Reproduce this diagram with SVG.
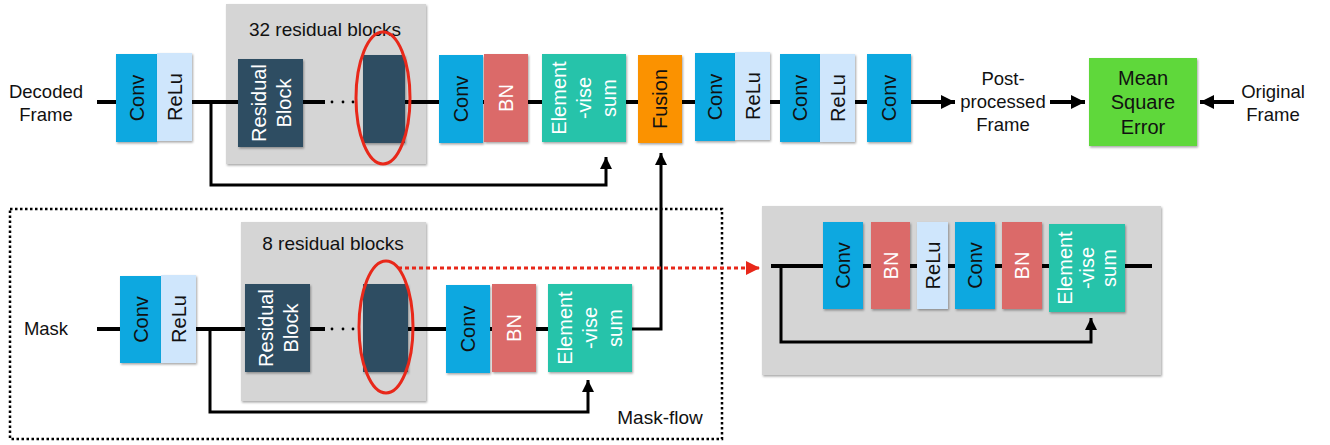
<svg xmlns="http://www.w3.org/2000/svg" width="1330" height="445" viewBox="0 0 1330 445">
<defs>
<filter id="sh" x="-10%" y="-10%" width="130%" height="130%">
<feDropShadow dx="1" dy="1.5" stdDeviation="1" flood-color="#000" flood-opacity="0.35"/>
</filter>
<marker id="ah" viewBox="0 0 12 12" refX="12" refY="6" markerWidth="12" markerHeight="12" markerUnits="userSpaceOnUse" orient="auto">
<path d="M0,0 L12,6 L0,12 z" fill="#000"/>
</marker>
<marker id="ahb" viewBox="0 0 14 14" refX="14" refY="7" markerWidth="14" markerHeight="14" markerUnits="userSpaceOnUse" orient="auto">
<path d="M0,0 L14,7 L0,14 z" fill="#000"/>
</marker>
<marker id="ahr" viewBox="0 0 14 14" refX="14" refY="7" markerWidth="14" markerHeight="14" markerUnits="userSpaceOnUse" orient="auto">
<path d="M0,0 L14,7 L0,14 z" fill="#e8281a"/>
</marker>
</defs>
<style>
text{font-family:"Liberation Sans",Arial,Helvetica,sans-serif;}
.lbl{font-size:18.5px;fill:#111;text-anchor:middle;}
.rl{font-size:20px;text-anchor:middle;}
.dk{fill:#111;}
.wh{fill:#fff;}
.conv{fill:#10a8e0;filter:url(#sh);}
.relu{fill:#cfe6fc;filter:url(#sh);}
.bn{fill:#db6a69;filter:url(#sh);}
.elem{fill:#25c3aa;filter:url(#sh);}
.fus{fill:#fb9200;filter:url(#sh);}
.res{fill:#2f4e62;filter:url(#sh);}
.mse{fill:#5ed83a;filter:url(#sh);}
.grp{fill:#d5d5d5;filter:url(#sh);}
.ln{fill:none;stroke:#000;stroke-width:4;}
.sk{fill:none;stroke:#000;stroke-width:3;}
.ell{fill:none;stroke:#e8281a;stroke-width:3;}
</style>

<!-- background groups -->
<g id="group-32">
<rect class="grp" x="226" y="4" width="200" height="160"/>
<text class="lbl" x="325" y="36" style="font-size:19px">32 residual blocks</text>
</g>
<g id="group-8">
<rect class="grp" x="241" y="222" width="185" height="179"/>
<text class="lbl" x="333" y="250" style="font-size:19px">8 residual blocks</text>
</g>
<g id="inset">
<rect class="grp" x="762" y="206" width="399" height="169"/>
</g>
<g id="mask-flow">
<rect x="10" y="209" width="712" height="230" fill="none" stroke="#000" stroke-width="2.5" stroke-dasharray="2.5 2.5"/>
<text class="lbl" x="660" y="424" style="font-size:19px">Mask-flow</text>
</g>

<!-- connectors -->
<g id="connectors">
<path class="ln" d="M97 102 H325"/>
<path class="ln" d="M363 102 H911"/>
<path class="ln" d="M911 102 H955" marker-end="url(#ahb)"/>
<path class="ln" d="M1050 102 H1085" marker-end="url(#ahb)"/>
<path class="ln" d="M1234 102 H1200" marker-end="url(#ahb)"/>
<path class="sk" d="M211 102 V185 H606 V157" marker-end="url(#ah)"/>
<path class="ln" d="M97 329 H325"/>
<path class="ln" d="M363 329 H632"/>
<path class="sk" d="M632 329 H661 V153" marker-end="url(#ah)"/>
<path class="sk" d="M210 329 V412 H588 V380" marker-end="url(#ah)"/>
<path d="M398 268 H760" fill="none" stroke="#e8281a" stroke-width="3" stroke-dasharray="4 3" marker-end="url(#ahr)"/>
<path class="ln" d="M771 266 H1152"/>
<path class="sk" d="M781 266 V342 H1091 V318" marker-end="url(#ah)"/>
<g fill="#000">
<circle cx="332" cy="102" r="1.4"/><circle cx="343" cy="102" r="1.4"/><circle cx="353" cy="102" r="1.4"/>
<circle cx="332" cy="329" r="1.4"/><circle cx="343" cy="329" r="1.4"/><circle cx="353" cy="329" r="1.4"/>
</g>
</g>

<!-- top row nodes -->
<g id="decoded-frame"><text class="lbl" x="46" y="98">Decoded</text><text class="lbl" x="46" y="121">Frame</text></g>
<g id="t-conv1"><rect class="conv" x="116" y="54" width="41" height="88"/><text class="rl dk" transform="translate(136.5,98) rotate(-90)" y="7">Conv</text></g>
<g id="t-relu1"><rect class="relu" x="157" y="53" width="35" height="88"/><text class="rl dk" transform="translate(174.5,97) rotate(-90)" y="7">ReLu</text></g>
<g id="t-res"><rect class="res" x="238" y="59" width="65" height="88"/><text class="rl wh" transform="translate(270.5,103) rotate(-90)"><tspan x="0" y="-5">Residual</tspan><tspan x="0" y="20">Block</tspan></text></g>
<g id="t-res-last"><rect class="res" x="363" y="55" width="42" height="88"/><ellipse class="ell" cx="383" cy="98" rx="27" ry="66"/></g>
<g id="t-conv2"><rect class="conv" x="439" y="55" width="44" height="88"/><text class="rl dk" transform="translate(461,99) rotate(-90)" y="7">Conv</text></g>
<g id="t-bn"><rect class="bn" x="484" y="54" width="44" height="88"/><text class="rl wh" transform="translate(506,98) rotate(-90)" y="7">BN</text></g>
<g id="t-elem"><rect class="elem" x="542" y="54" width="84" height="88"/><text class="rl wh" transform="translate(584,98) rotate(-90)"><tspan x="0" y="-18">Element</tspan><tspan x="0" y="7">-vise</tspan><tspan x="0" y="32">sum</tspan></text></g>
<g id="t-fusion"><rect class="fus" x="638" y="55" width="44" height="88"/><text class="rl dk" transform="translate(660,99) rotate(-90)" y="7">Fusion</text></g>
<g id="t-conv3"><rect class="conv" x="695" y="53" width="40" height="88"/><text class="rl dk" transform="translate(715,97) rotate(-90)" y="7">Conv</text></g>
<g id="t-relu3"><rect class="relu" x="735" y="52" width="35" height="88"/><text class="rl dk" transform="translate(752.5,96) rotate(-90)" y="7">ReLu</text></g>
<g id="t-conv4"><rect class="conv" x="780" y="54" width="40" height="88"/><text class="rl dk" transform="translate(800,98) rotate(-90)" y="7">Conv</text></g>
<g id="t-relu4"><rect class="relu" x="820" y="54" width="35" height="88"/><text class="rl dk" transform="translate(837.5,98) rotate(-90)" y="7">ReLu</text></g>
<g id="t-conv5"><rect class="conv" x="867" y="54" width="44" height="88"/><text class="rl dk" transform="translate(889,98) rotate(-90)" y="7">Conv</text></g>
<g id="post-processed"><text class="lbl" x="1003" y="85">Post-</text><text class="lbl" x="1003" y="108">processed</text><text class="lbl" x="1003" y="131">Frame</text></g>
<g id="mse"><rect class="mse" x="1089" y="58" width="108" height="88"/><text class="lbl" x="1143" y="85" style="font-size:20px">Mean</text><text class="lbl" x="1143" y="109" style="font-size:20px">Square</text><text class="lbl" x="1143" y="134" style="font-size:20px">Error</text></g>
<g id="original-frame"><text class="lbl" x="1273" y="98">Original</text><text class="lbl" x="1273" y="121">Frame</text></g>

<!-- bottom row nodes -->
<g id="mask"><text class="lbl" x="46" y="335">Mask</text></g>
<g id="b-conv1"><rect class="conv" x="120" y="276" width="41" height="87"/><text class="rl dk" transform="translate(140.5,319.5) rotate(-90)" y="7">Conv</text></g>
<g id="b-relu1"><rect class="relu" x="161" y="275" width="35" height="88"/><text class="rl dk" transform="translate(178.5,319) rotate(-90)" y="7">ReLu</text></g>
<g id="b-res"><rect class="res" x="245" y="284" width="65" height="88"/><text class="rl wh" transform="translate(277.5,328) rotate(-90)"><tspan x="0" y="-5">Residual</tspan><tspan x="0" y="20">Block</tspan></text></g>
<g id="b-res-last"><rect class="res" x="363" y="284" width="45" height="88"/><ellipse class="ell" cx="386" cy="327" rx="27" ry="66"/></g>
<g id="b-conv2"><rect class="conv" x="446" y="285" width="44" height="88"/><text class="rl dk" transform="translate(468,329) rotate(-90)" y="7">Conv</text></g>
<g id="b-bn"><rect class="bn" x="492" y="284" width="44" height="88"/><text class="rl wh" transform="translate(514,328) rotate(-90)" y="7">BN</text></g>
<g id="b-elem"><rect class="elem" x="548" y="284" width="84" height="88"/><text class="rl wh" transform="translate(590,328) rotate(-90)"><tspan x="0" y="-18">Element</tspan><tspan x="0" y="7">-vise</tspan><tspan x="0" y="32">sum</tspan></text></g>

<!-- inset nodes -->
<g id="i-conv1"><rect class="conv" x="823" y="222" width="40" height="87"/><text class="rl dk" transform="translate(843,265.5) rotate(-90)" y="7">Conv</text></g>
<g id="i-bn1"><rect class="bn" x="871" y="222" width="39" height="87"/><text class="rl wh" transform="translate(890.5,265.5) rotate(-90)" y="7">BN</text></g>
<g id="i-relu"><rect class="relu" x="917" y="222" width="31" height="87"/><text class="rl dk" transform="translate(932.5,265.5) rotate(-90)" y="7">ReLu</text></g>
<g id="i-conv2"><rect class="conv" x="955" y="222" width="40" height="87"/><text class="rl dk" transform="translate(975,265.5) rotate(-90)" y="7">Conv</text></g>
<g id="i-bn2"><rect class="bn" x="1002" y="222" width="40" height="87"/><text class="rl wh" transform="translate(1022,265.5) rotate(-90)" y="7">BN</text></g>
<g id="i-elem"><rect class="elem" x="1049" y="224" width="76" height="88"/><text class="rl wh" transform="translate(1087,268) rotate(-90)"><tspan x="0" y="-15">Element</tspan><tspan x="0" y="7">-vise</tspan><tspan x="0" y="29">sum</tspan></text></g>
</svg>
